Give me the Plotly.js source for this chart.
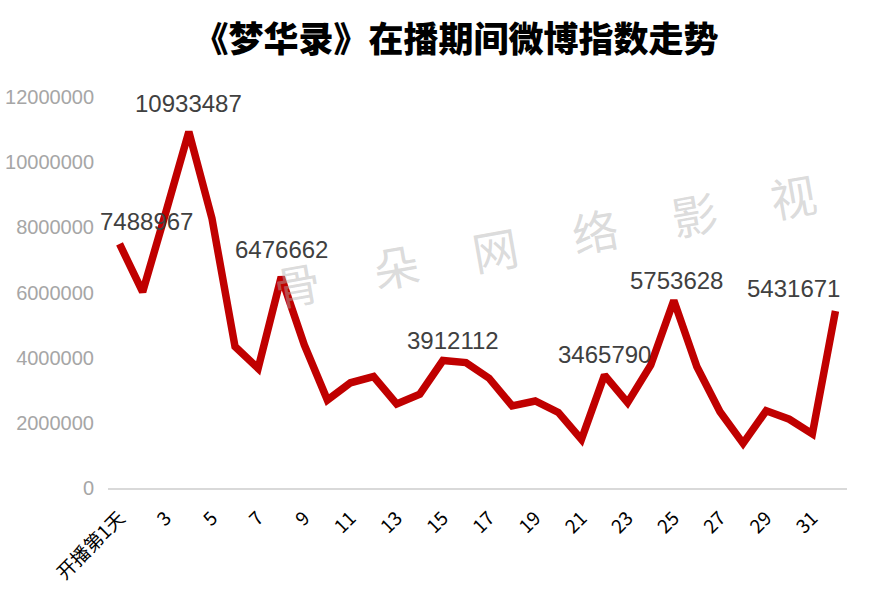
<!DOCTYPE html>
<html>
<head>
<meta charset="utf-8">
<script src="https://cdn.plot.ly/plotly-3.0.1.min.js"></script>
<style>html,body{margin:0;padding:0;background:#fff;}#chart{width:878px;height:610px;}</style>
</head>
<body>
<div id="chart"></div>
<script>
// Categories (days on air)
const days = ["开播第1天","2","3","4","5","6","7","8","9","10","11","12","13","14","15","16",
              "17","18","19","20","21","22","23","24","25","26","27","28","29","30","31","32"];
// Weibo index values
const weiboIndex = [7488967, 6020000, 8450000, 10933487, 8280000, 4340000, 3670000, 6476662,
                    4390000, 2700000, 3230000, 3420000, 2580000, 2880000, 3912112, 3850000,
                    3370000, 2520000, 2670000, 2320000, 1490000, 3465790, 2620000, 3770000,
                    5753628, 3720000, 2340000, 1370000, 2370000, 2110000, 1660000, 5431671];
// Which points carry a value label, and their label offsets
const labeledDays = ["开播第1天","4","8","15","22","25","32"];
const labelShiftX = [27, 0, 0, 10, 0, 3, -42];
const labelShiftY = [22, 28, 27, 20, 21, 20, 23];
// Tick labels shown on the x axis
const tickDays = ["开播第1天","3","5","7","9","11","13","15","17","19","21","23","25","27","29","31"];
const yTicks = [0, 2000000, 4000000, 6000000, 8000000, 10000000, 12000000];
const watermarkChars = ["骨","朵","网","络","影","视"];
const titleText = "《梦华录》在播期间微博指数走势";

const xIdx = days.map((d, i) => i);

const annotations = labeledDays.map((d, i) => {
  const idx = days.indexOf(d);
  return {
    x: idx, y: weiboIndex[idx], xref: 'x', yref: 'y',
    text: String(weiboIndex[idx]), showarrow: false,
    xanchor: 'center', yanchor: 'middle',
    xshift: labelShiftX[i], yshift: labelShiftY[i],
    font: {family: 'Liberation Sans, Arial, sans-serif', size: 24, color: '#404040'}
  };
});
// watermark
watermarkChars.forEach((c, i) => {
  annotations.push({
    x: (297 + i * 99.2 - 108) / 739, y: (488 - (283 - i * 17.6)) / 391,
    xref: 'paper', yref: 'paper', xanchor: 'center', yanchor: 'middle',
    text: c, showarrow: false, textangle: -10,
    font: {family: 'Noto Sans CJK SC, sans-serif', size: 46, color: 'rgba(175,175,175,0.45)'}
  });
});

const trace = {
  x: xIdx, y: weiboIndex, type: 'scatter', mode: 'lines',
  line: {color: '#c00000', width: 7.5}, hoverinfo: 'skip'
};

const layout = {
  width: 878, height: 610,
  margin: {l: 108, r: 31, t: 97, b: 122},
  paper_bgcolor: '#ffffff', plot_bgcolor: '#ffffff',
  showlegend: false,
  title: {
    text: titleText,
    x: 456 / 878, xanchor: 'center', xref: 'container',
    y: 1 - 40 / 610, yanchor: 'middle', yref: 'container',
    font: {family: 'Noto Sans CJK SC, sans-serif', size: 35, weight: 900, color: '#000000'}
  },
  xaxis: {
    type: 'linear', tickmode: 'array',
    tickvals: tickDays.map(d => days.indexOf(d)), ticktext: tickDays,
    tickangle: -45, showgrid: false, zeroline: false,
    showline: true, linecolor: '#d9d9d9', linewidth: 1.5,
    ticks: '', ticklen: 0, ticklabelstandoff: 10,
    tickfont: {family: 'Noto Sans CJK SC, Liberation Sans, sans-serif', size: 19, color: '#000000'},
    range: [-0.5, days.length - 0.5], fixedrange: true
  },
  yaxis: {
    range: [0, 12000000], tickmode: 'array', tickvals: yTicks,
    ticktext: yTicks.map(String),
    showgrid: false, zeroline: false, showline: false, ticks: '',
    tickfont: {family: 'Liberation Sans, Arial, sans-serif', size: 20, color: '#a6a6a6'},
    ticklabelstandoff: 13, fixedrange: true
  },
  annotations: annotations
};

Plotly.newPlot('chart', [trace], layout, {displayModeBar: false, staticPlot: true});
</script>
</body>
</html>
